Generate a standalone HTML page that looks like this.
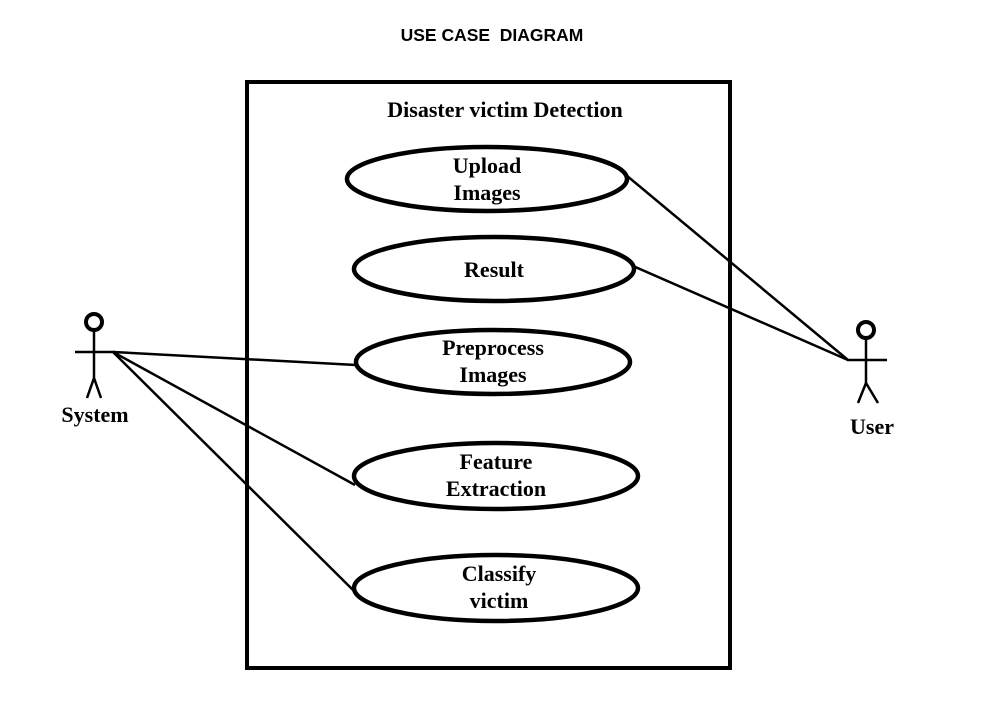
<!DOCTYPE html>
<html><head><style>body{margin:0;background:#fff}</style></head><body>
<svg width="1003" height="704" xmlns="http://www.w3.org/2000/svg">
<rect width="1003" height="704" fill="#fff"/>
<text x="492" y="41" text-anchor="middle" font-family="Liberation Sans, sans-serif" font-weight="bold" font-size="17.5" xml:space="preserve" style="white-space:pre">USE CASE  DIAGRAM</text>
<rect x="247" y="82" width="483" height="586" fill="none" stroke="#000" stroke-width="4"/>
<g font-family="Liberation Serif, serif" font-weight="bold" font-size="22" text-anchor="middle">
<text x="505" y="117">Disaster victim Detection</text>
<g fill="none" stroke="#000" stroke-width="4.5">
<ellipse cx="487" cy="179" rx="140" ry="32"/>
<ellipse cx="494" cy="269" rx="140" ry="32"/>
<ellipse cx="493" cy="362" rx="137" ry="32"/>
<ellipse cx="496" cy="476" rx="142" ry="33"/>
<ellipse cx="496" cy="588" rx="142" ry="33"/>
</g>
<text x="487" y="173">Upload</text><text x="487" y="200">Images</text>
<text x="494" y="277">Result</text>
<text x="493" y="355">Preprocess</text><text x="493" y="382">Images</text>
<text x="496" y="469">Feature</text><text x="496" y="496">Extraction</text>
<text x="499" y="581">Classify</text><text x="499" y="608">victim</text>
<text x="95" y="422">System</text>
<text x="872" y="434">User</text>
</g>
<g stroke="#000" stroke-width="2.5" fill="none">
<line x1="113" y1="352" x2="356" y2="365"/>
<line x1="113" y1="352" x2="355" y2="485"/>
<line x1="113" y1="352" x2="355" y2="592"/>
<line x1="848" y1="360" x2="626" y2="175"/>
<line x1="848" y1="360" x2="633" y2="266"/>
<circle cx="94" cy="322" r="8" stroke-width="4"/>
<line x1="94" y1="331" x2="94" y2="378"/>
<line x1="75" y1="352" x2="115" y2="352"/>
<line x1="94" y1="378" x2="87" y2="398"/>
<line x1="94" y1="378" x2="101" y2="398"/>
<circle cx="866" cy="330" r="8" stroke-width="4"/>
<line x1="866" y1="339" x2="866" y2="383"/>
<line x1="847" y1="360" x2="887" y2="360"/>
<line x1="866" y1="383" x2="858" y2="403"/>
<line x1="866" y1="383" x2="878" y2="403"/>
</g>
</svg>
</body></html>
